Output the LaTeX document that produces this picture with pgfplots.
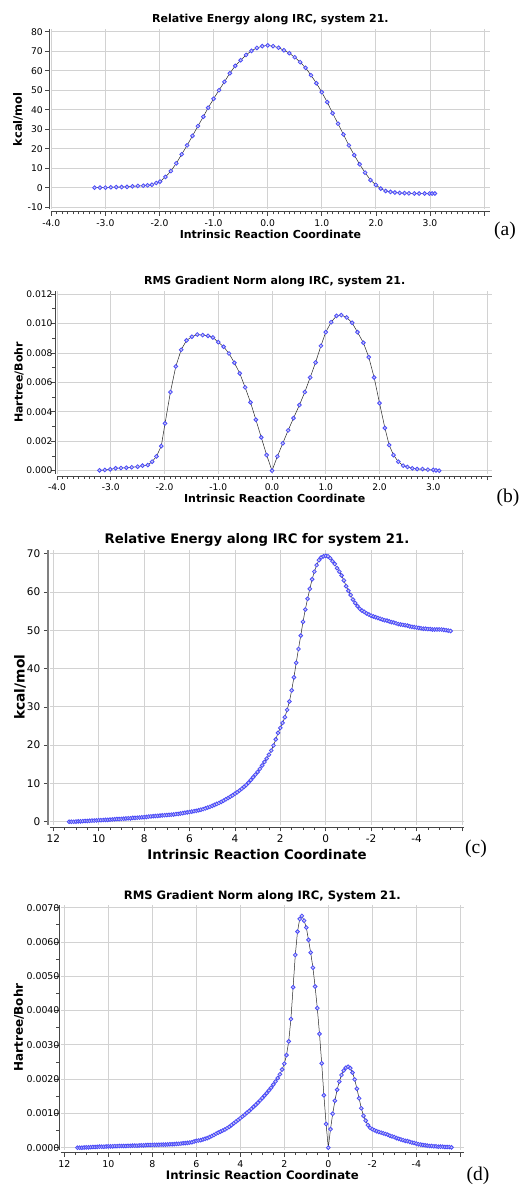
\documentclass[border=0pt]{standalone}
\usepackage{fontspec}
\setmainfont{DejaVu Sans}
\newfontfamily\tnr{Liberation Serif}
\usepackage{pgfplots}
\pgfplotsset{compat=1.18}
\definecolor{mk}{RGB}{75,75,250}
\definecolor{mkfill}{RGB}{205,205,240}
\definecolor{gridc}{RGB}{210,210,210}
\definecolor{axc}{RGB}{70,70,70}
\newcommand{\fs}[1]{\fontsize{#1}{#1}\selectfont}
\pgfplotsset{
  irc/.style={
    scale only axis,
    axis x line*=bottom, axis y line*=left,
    tick align=outside,
    grid=major,
    major grid style={draw=gridc, line width=0.8pt},
    x axis line style={draw=axc, line width=0.8pt, yshift=-2.5pt, -},
    y axis line style={draw=axc, line width=0.8pt, xshift=-2pt, -},
    every tick/.append style={draw=axc, line width=0.6pt},
    every x tick/.append style={yshift=-2.5pt},
    every y tick/.append style={xshift=-2pt},
    major tick length=4pt, minor tick length=2.5pt,
    scaled ticks=false,
    clip=false,
    every axis title/.style={at={(axis description cs:0.5,1)}, anchor=center},
    every axis x label/.style={at={(axis description cs:0.5,0)}, anchor=center},
    every axis y label/.style={at={(axis description cs:0,0.5)}, anchor=center},
  },
  dat/.style={color=black!85, line width=0.5pt, mark=*, mark size=1.9pt,
    mark options={draw=mk, fill=mkfill, line width=0.8pt}},
}
\begin{document}
\begin{tikzpicture}
\useasboundingbox (0,0) rectangle (527pt,-1185pt);
\fill[white] (0,0) rectangle (527pt,-1185pt);
% ---------------- (a)
\begin{axis}[irc,
  at={(51.3pt,-209.3pt)}, anchor=south west,
  width=438.2pt, height=179.9pt,
  xmin=-4.0, xmax=4.1, ymin=-11.1, ymax=81.2,
  xtick={-4,-3,-2,-1,0,1,2,3,4},
  xticklabels={-4.0,-3.0,-2.0,-1.0,0.0,1.0,2.0,3.0,{}},
  minor x tick num=9,
  ytick={-10,0,10,20,30,40,50,60,70,80},
  yticklabels={-10,0,10,20,30,40,50,60,70,80},
  ticklabel style={font=\fs{9.2}},
  xticklabel style={yshift=-2.5pt},
  yticklabel style={xshift=-1pt},
  title={Relative Energy along IRC, system 21.},
  title style={font=\fs{11}\bfseries, yshift=9.5pt},
  xlabel={Intrinsic Reaction Coordinate},
  xlabel style={font=\fs{11}\bfseries, yshift=-25.4pt},
  ylabel={kcal/mol},
  ylabel style={font=\fs{11.5}\bfseries, xshift=-33.3pt, rotate=90},
]
\addplot[dat] coordinates {
(-3.2,0.0) (-3.1,0.0) (-3.0,0.0) (-2.9,0.2) (-2.8,0.3) (-2.7,0.3) (-2.6,0.4)
(-2.5,0.7) (-2.4,0.9) (-2.3,1.0) (-2.22,1.2) (-2.14,1.5) (-2.06,2.4) (-1.99,3.1)
(-1.89,5.5) (-1.79,8.5) (-1.69,12.5) (-1.59,17.1) (-1.49,21.7) (-1.39,26.6)
(-1.29,31.6) (-1.19,36.4) (-1.10,41.0) (-1.00,45.6) (-0.90,50.0) (-0.80,54.3)
(-0.70,58.7) (-0.60,62.5) (-0.50,65.4) (-0.40,68.1) (-0.30,70.2) (-0.20,71.7)
(-0.10,72.6) (0.00,73.0) (0.10,72.6) (0.20,71.8) (0.30,70.5) (0.40,69.0)
(0.50,66.9) (0.60,64.4) (0.70,61.5) (0.80,57.7) (0.90,53.6) (1.00,49.0)
(1.10,43.9) (1.20,38.2) (1.30,32.8) (1.40,27.3) (1.50,21.7) (1.60,16.7)
(1.70,12.0) (1.80,7.7) (1.90,3.9) (2.00,1.4) (2.09,-0.5) (2.18,-1.7)
(2.27,-2.2) (2.35,-2.5) (2.44,-2.7) (2.53,-2.8) (2.61,-2.9) (2.71,-3.0)
(2.80,-3.0) (2.90,-3.0) (2.99,-3.0) (3.04,-3.0) (3.09,-3.0)
};
\end{axis}
% ---------------- (b)
\begin{axis}[irc,
  at={(57pt,-473.6pt)}, anchor=south west,
  width=435.4pt, height=182.5pt,
  xmin=-4.0, xmax=4.1, ymin=-0.0002, ymax=0.0122,
  xtick={-4,-3,-2,-1,0,1,2,3,4},
  xticklabels={-4.0,-3.0,-2.0,-1.0,0.0,1.0,2.0,3.0,{}},
  minor x tick num=9,
  ytick={0,0.002,0.004,0.006,0.008,0.010,0.012},
  yticklabels={0.000,0.002,0.004,0.006,0.008,0.010,0.012},
  minor y tick num=1,
  ticklabel style={font=\fs{9.1}},
  xticklabel style={yshift=-2.5pt},
  yticklabel style={xshift=3pt},
  title={RMS Gradient Norm along IRC, system 21.},
  title style={font=\fs{11}\bfseries, yshift=9.4pt},
  xlabel={Intrinsic Reaction Coordinate},
  xlabel style={font=\fs{11}\bfseries, yshift=-24.4pt},
  ylabel={Hartree/Bohr},
  ylabel style={font=\fs{11}\bfseries, xshift=-38pt, rotate=90},
]
\addplot[dat] coordinates {
(-3.21,0.00002) (-3.11,0.00005) (-3.01,0.00009) (-2.91,0.00016) (-2.81,0.00018)
(-2.71,0.00020) (-2.61,0.00023) (-2.50,0.00027) (-2.41,0.00034) (-2.31,0.00038)
(-2.23,0.00061) (-2.15,0.00097) (-2.06,0.00167) (-1.99,0.00321) (-1.89,0.00534)
(-1.79,0.00708) (-1.69,0.00821) (-1.59,0.00885) (-1.49,0.00910) (-1.39,0.00925)
(-1.29,0.00921) (-1.19,0.00916) (-1.10,0.00905) (-1.00,0.00873) (-0.90,0.00842)
(-0.80,0.00796) (-0.70,0.00733) (-0.60,0.00661) (-0.50,0.00566) (-0.40,0.00464)
(-0.30,0.00346) (-0.20,0.00226) (-0.10,0.00106) (0.00,0.00000) (0.10,0.00097)
(0.20,0.00186) (0.30,0.00274) (0.40,0.00357) (0.51,0.00446) (0.61,0.00534)
(0.71,0.00633) (0.81,0.00735) (0.91,0.00848) (1.00,0.00941) (1.10,0.01009)
(1.20,0.01052) (1.29,0.01057) (1.39,0.01041) (1.49,0.01005) (1.59,0.00941)
(1.70,0.00869) (1.80,0.00771) (1.90,0.00633) (2.00,0.00459) (2.10,0.00290)
(2.18,0.00174) (2.26,0.00106) (2.35,0.00061) (2.44,0.00034) (2.52,0.00025)
(2.61,0.00016) (2.70,0.00011) (2.80,0.00011) (2.90,0.00007) (3.00,0.00005)
(3.05,0.00002) (3.11,0.00000)
};
\end{axis}
% ---------------- (c)
\begin{axis}[irc,
  at={(49.9pt,-824.8pt)}, anchor=south west,
  width=414.3pt, height=275pt,
  x dir=reverse,
  xmin=-6.1, xmax=12.15, ymin=-0.8, ymax=71,
  xtick={-6,-4,-2,0,2,4,6,8,10,12},
  xticklabels={{},-4,-2,0,2,4,6,8,10,12},
  minor x tick num=3,
  ytick={0,10,20,30,40,50,60,70},
  yticklabels={0,10,20,30,40,50,60,70},
  y axis line style={draw=gray, line width=2pt},
  ticklabel style={font=\fs{10.5}},
  xticklabel style={yshift=-2.5pt},
  yticklabel style={xshift=-2pt},
  title={Relative Energy along IRC for system 21.},
  title style={font=\fs{13.2}\bfseries, yshift=9.5pt},
  xlabel={Intrinsic Reaction Coordinate},
  xlabel style={font=\fs{13.3}\bfseries, yshift=-29.7pt},
  ylabel={kcal/mol},
  ylabel style={font=\fs{13.8}\bfseries, xshift=-29.9pt, rotate=90},
]
\addplot[dat] coordinates {
(11.3,0.0) (11.2,0.0) (11.1,0.0) (11.0,0.05) (10.9,0.1) (10.8,0.1) (10.7,0.15)
(10.6,0.2) (10.5,0.2) (10.4,0.25) (10.3,0.3) (10.2,0.3) (10.1,0.35) (10.0,0.4)
(9.9,0.4) (9.8,0.45) (9.7,0.5) (9.6,0.5) (9.5,0.55) (9.4,0.6) (9.3,0.65)
(9.2,0.7) (9.1,0.7) (9.0,0.75) (8.9,0.8) (8.8,0.85) (8.7,0.9) (8.6,0.9)
(8.5,1.0) (8.4,1.0) (8.3,1.05) (8.2,1.1) (8.1,1.15) (8.0,1.2) (7.9,1.25)
(7.8,1.35) (7.7,1.4) (7.6,1.45) (7.5,1.5) (7.4,1.55) (7.3,1.6) (7.2,1.65)
(7.1,1.7) (7.0,1.75) (6.9,1.8) (6.8,1.85) (6.7,1.9) (6.6,2.0) (6.5,2.05)
(6.4,2.15) (6.3,2.25) (6.2,2.35) (6.1,2.45) (6.0,2.55) (5.9,2.65) (5.8,2.75)
(5.7,2.85) (5.6,3.0) (5.5,3.15) (5.4,3.3) (5.3,3.5) (5.2,3.7) (5.1,3.9)
(5.0,4.15) (4.9,4.4) (4.8,4.65) (4.7,4.9) (4.6,5.2) (4.5,5.5) (4.4,5.85)
(4.3,6.2) (4.2,6.55) (4.1,6.9) (4.0,7.3) (3.9,7.7) (3.8,8.15) (3.7,8.6)
(3.6,9.1) (3.5,9.6) (3.4,10.2) (3.3,10.9) (3.2,11.6) (3.1,12.3) (3.0,13.0)
(2.9,13.8) (2.8,14.7) (2.7,15.6) (2.6,16.5) (2.5,17.5) (2.4,18.6) (2.3,19.9)
(2.2,21.5) (2.1,23.2) (2.0,24.5) (1.9,25.8) (1.8,27.3) (1.7,29.2) (1.6,31.4)
(1.5,34.3) (1.4,37.7) (1.3,41.5) (1.2,45.1) (1.1,48.6) (1.0,52.2) (0.9,55.4)
(0.8,58.2) (0.7,60.8) (0.6,63.3) (0.5,65.3) (0.4,67.0) (0.3,68.3) (0.2,69.0)
(0.1,69.3) (0.0,69.4) (-0.1,69.3) (-0.2,68.8) (-0.3,68.0) (-0.4,67.3) (-0.5,66.2)
(-0.6,65.3) (-0.7,64.3) (-0.8,63.0) (-0.9,61.5) (-1.0,60.3) (-1.1,59.2) (-1.2,58.0)
(-1.3,57.1) (-1.4,56.3) (-1.5,55.6) (-1.6,55.1) (-1.7,54.8) (-1.8,54.4) (-1.9,54.1)
(-2.0,53.8) (-2.1,53.6) (-2.2,53.4) (-2.3,53.2) (-2.4,53.0) (-2.5,52.8) (-2.6,52.6)
(-2.7,52.5) (-2.8,52.3) (-2.9,52.1) (-3.0,52.0) (-3.1,51.8) (-3.2,51.6) (-3.3,51.5)
(-3.4,51.4) (-3.5,51.3) (-3.6,51.2) (-3.7,51.0) (-3.8,50.9) (-3.9,50.8) (-4.0,50.7)
(-4.1,50.6) (-4.2,50.5) (-4.3,50.4) (-4.4,50.4) (-4.5,50.3) (-4.6,50.3) (-4.7,50.2)
(-4.8,50.2) (-4.9,50.2) (-5.0,50.2) (-5.1,50.2) (-5.2,50.1) (-5.3,50.0) (-5.4,49.9)
(-5.5,49.8)
};
\end{axis}
% ---------------- (d)
\begin{axis}[irc,
  at={(61pt,-1150.1pt)}, anchor=south west,
  width=402.6pt, height=245.2pt,
  x dir=reverse,
  xmin=-6.15, xmax=12.15, ymin=-0.00007, ymax=0.00708,
  xtick={-6,-4,-2,0,2,4,6,8,10,12},
  xticklabels={{},-4,-2,0,2,4,6,8,10,12},
  minor x tick num=3,
  ytick={0,0.001,0.002,0.003,0.004,0.005,0.006,0.007},
  yticklabels={0.0000,0.0010,0.0020,0.0030,0.0040,0.0050,0.0060,0.0070},
  minor y tick num=1,
  ticklabel style={font=\fs{9.4}},
  xticklabel style={yshift=-2.5pt},
  yticklabel style={xshift=6pt},
  title={RMS Gradient Norm along IRC, System 21.},
  title style={font=\fs{11.6}\bfseries, yshift=8.9pt},
  xlabel={Intrinsic Reaction Coordinate},
  xlabel style={font=\fs{11.7}\bfseries, yshift=-24.9pt},
  ylabel={Hartree/Bohr},
  ylabel style={font=\fs{12}\bfseries, xshift=-42pt, rotate=90},
]
\addplot[dat] coordinates {
(11.4,0) (11.3,0) (11.2,0) (11.1,0.005e-3) (11.0,0.01e-3) (10.9,0.01e-3)
(10.8,0.015e-3) (10.7,0.02e-3) (10.6,0.02e-3) (10.5,0.025e-3) (10.4,0.03e-3)
(10.3,0.03e-3) (10.2,0.03e-3) (10.1,0.035e-3) (10.0,0.04e-3) (9.9,0.04e-3)
(9.8,0.04e-3) (9.7,0.045e-3) (9.6,0.045e-3) (9.5,0.05e-3) (9.4,0.05e-3)
(9.3,0.05e-3) (9.2,0.05e-3) (9.1,0.055e-3) (9.0,0.055e-3) (8.9,0.06e-3)
(8.8,0.06e-3) (8.7,0.06e-3) (8.6,0.065e-3) (8.5,0.07e-3) (8.4,0.07e-3)
(8.3,0.075e-3) (8.2,0.08e-3) (8.1,0.08e-3) (8.0,0.08e-3) (7.9,0.085e-3)
(7.8,0.085e-3) (7.7,0.085e-3) (7.6,0.09e-3) (7.5,0.09e-3) (7.4,0.09e-3)
(7.3,0.095e-3) (7.2,0.10e-3) (7.1,0.10e-3) (7.0,0.105e-3) (6.9,0.11e-3)
(6.8,0.115e-3) (6.7,0.12e-3) (6.6,0.13e-3) (6.5,0.135e-3) (6.4,0.14e-3)
(6.3,0.15e-3) (6.2,0.16e-3) (6.1,0.18e-3) (6.0,0.20e-3) (5.9,0.21e-3)
(5.8,0.22e-3) (5.7,0.24e-3) (5.6,0.26e-3) (5.5,0.28e-3) (5.4,0.31e-3)
(5.3,0.34e-3) (5.2,0.37e-3) (5.1,0.41e-3) (5.0,0.44e-3) (4.9,0.47e-3)
(4.8,0.50e-3) (4.7,0.53e-3) (4.6,0.57e-3) (4.5,0.61e-3) (4.4,0.66e-3)
(4.3,0.71e-3) (4.2,0.76e-3) (4.1,0.81e-3) (4.0,0.86e-3) (3.9,0.91e-3)
(3.8,0.96e-3) (3.7,1.02e-3) (3.6,1.07e-3) (3.5,1.13e-3) (3.4,1.19e-3)
(3.3,1.25e-3) (3.2,1.31e-3) (3.1,1.38e-3) (3.0,1.45e-3) (2.9,1.52e-3)
(2.8,1.59e-3) (2.7,1.67e-3) (2.6,1.75e-3) (2.5,1.84e-3) (2.4,1.93e-3)
(2.3,2.03e-3) (2.2,2.14e-3) (2.1,2.28e-3) (2.0,2.45e-3) (1.9,2.70e-3)
(1.8,3.10e-3) (1.7,3.75e-3) (1.6,4.68e-3) (1.5,5.62e-3) (1.4,6.30e-3)
(1.3,6.67e-3) (1.2,6.76e-3) (1.1,6.62e-3) (1.0,6.42e-3) (0.9,6.06e-3)
(0.8,5.69e-3) (0.7,5.25e-3) (0.6,4.70e-3) (0.5,4.07e-3) (0.4,3.32e-3)
(0.3,2.46e-3) (0.2,1.53e-3) (0.1,0.69e-3) (0.0,0.0) (-0.1,0.54e-3)
(-0.2,0.99e-3) (-0.3,1.37e-3) (-0.4,1.69e-3) (-0.5,1.93e-3) (-0.6,2.12e-3)
(-0.7,2.25e-3) (-0.8,2.33e-3) (-0.9,2.36e-3) (-1.0,2.32e-3) (-1.1,2.19e-3)
(-1.2,1.99e-3) (-1.3,1.72e-3) (-1.4,1.44e-3) (-1.5,1.15e-3) (-1.6,0.93e-3)
(-1.7,0.79e-3) (-1.8,0.66e-3) (-1.9,0.58e-3) (-2.0,0.54e-3) (-2.1,0.51e-3)
(-2.2,0.48e-3) (-2.3,0.46e-3) (-2.4,0.44e-3) (-2.5,0.42e-3) (-2.6,0.40e-3)
(-2.7,0.38e-3) (-2.8,0.35e-3) (-2.9,0.33e-3) (-3.0,0.31e-3) (-3.1,0.28e-3)
(-3.2,0.26e-3) (-3.3,0.24e-3) (-3.4,0.22e-3) (-3.5,0.20e-3) (-3.6,0.19e-3)
(-3.7,0.17e-3) (-3.8,0.15e-3) (-3.9,0.14e-3) (-4.0,0.12e-3) (-4.1,0.10e-3)
(-4.2,0.09e-3) (-4.3,0.08e-3) (-4.4,0.07e-3) (-4.5,0.06e-3) (-4.6,0.05e-3)
(-4.7,0.05e-3) (-4.8,0.04e-3) (-4.9,0.04e-3) (-5.0,0.03e-3) (-5.1,0.03e-3)
(-5.2,0.03e-3) (-5.3,0.02e-3) (-5.4,0.02e-3) (-5.5,0.02e-3) (-5.6,0.01e-3)
};
\end{axis}
% panel letters
\node[font=\tnr\fs{19.5}] at (505pt,-231pt) {(a)};
\node[font=\tnr\fs{19.5}] at (508pt,-498pt) {(b)};
\node[font=\tnr\fs{19.5}] at (476pt,-849pt) {(c)};
\node[font=\tnr\fs{19.5}] at (478pt,-1176pt) {(d)};
\end{tikzpicture}
\end{document}
